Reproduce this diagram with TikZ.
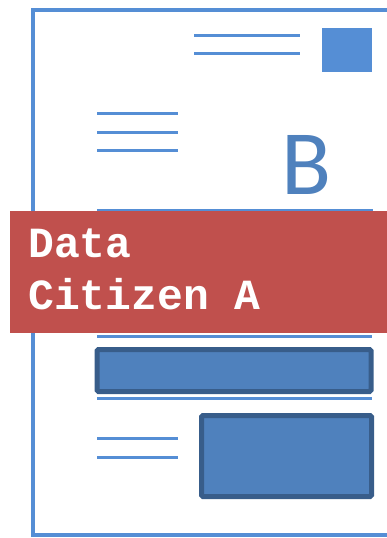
\documentclass[tikz,border=0pt]{standalone}
\usepackage{fontspec}
\newfontfamily\monobold[BoldFont={Liberation Mono Bold}]{Liberation Mono}
\newfontfamily\letterfont{Carlito}
\definecolor{sheetblue}{HTML}{558ED5}
\definecolor{letterblue}{HTML}{4F81BD}
\definecolor{boxedge}{HTML}{385D8A}
\definecolor{bannerred}{HTML}{C0504D}
\tikzset{
  textline/.style={sheetblue, line width=3pt},
  infobox/.style={fill=letterblue, draw=boxedge, line width=5pt, rounded corners=1.5pt}
}
\begin{document}
\begin{tikzpicture}[x=1pt, y=-1pt]
        \useasboundingbox (0,0) rectangle (387,538);
        \clip (0,0) rectangle (387,538);
        % Draw the sheet
        \draw[sheetblue, line width=4pt] (420,9.5) -- (33,9.5) -- (33,534.5) -- (420,534.5);

        % Address lines and stamp
        \draw[textline] (194,35) -- (300,35);
        \draw[textline] (194,53) -- (300,53);
        \fill[sheetblue] (322,28) rectangle (372,72);

        \draw[textline] (97,113) -- (178,113);
        \draw[textline] (97,132) -- (178,132);
        \draw[textline] (97,150) -- (178,150);

        \node[anchor=base west, inner sep=0pt, text=letterblue, font=\letterfont\fontsize{92}{92}\selectfont] (letter) at (281,194) {B};

        % Lines round the banner
        \draw[sheetblue, line width=2pt] (97,209.5) -- (373,209.5);
        \draw[textline] (97,336) -- (372,336);
        \draw[textline] (97,398) -- (372,398);

        % Banner
        \fill[bannerred] (10,211) rectangle (400,333);
        \node[anchor=base west, inner sep=0pt, text=white, font=\monobold\bfseries\fontsize{43}{43}\selectfont] (first) at (28,257) {Data};
        \node[anchor=base west, inner sep=0pt, text=white, font=\monobold\bfseries\fontsize{43}{43}\selectfont] (second) at (28,309) {Citizen A};

        % Boxes
        \draw[infobox] (97,349.5) rectangle (371,391.5);
        \draw[textline] (97,438) -- (178,438);
        \draw[textline] (97,457) -- (178,457);
        \draw[infobox] (201.5,415.5) rectangle (371.5,496.5);

    \end{tikzpicture}
\end{document}
